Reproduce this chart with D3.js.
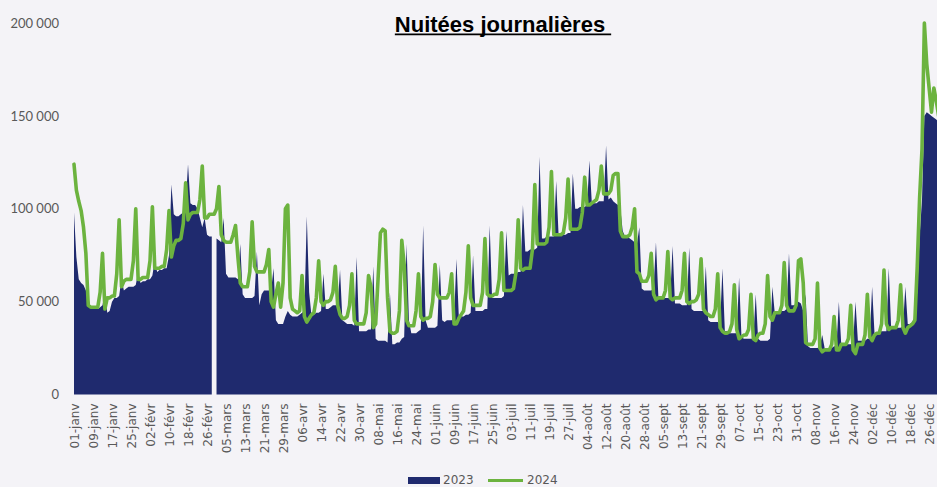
<!DOCTYPE html>
<html lang="fr">
<head>
<meta charset="utf-8">
<title>Nuitées journalières</title>
<script src="https://cdn.jsdelivr.net/npm/d3@7"></script>
<style>
  html, body { margin: 0; padding: 0; background: #f4f3f7; }
  svg { display: block; }
  .axis text { fill: #595959; }
</style>
</head>
<body>
<div id="chart"></div>
<script>
// nuitées par jour, en milliers, alignées sur le calendrier 2024 (366 jours, lundi -> dimanche)
// 2023 n'a pas de 29 février : valeur null a cet endroit
const nuitees2023 = [
  98, 74, 62, 60, 59, 56, 52,
  47, 46, 46, 46, 47, 48, 55,
  44, 45, 50, 52, 52, 53, 62,
  56, 57, 58, 58, 58, 59, 66,
  60, 61, 61, 62, 62, 64, 72,
  66, 67, 67, 68, 68, 75, 113,
  97, 96, 96, 97, 98, 102, 124,
  103, 102, 102, 100, 95, 90, 95,
  86, 85, 85, null, 84, 83, 82,
  95, 65, 63, 63, 63, 63, 62,
  81, 54, 52, 52, 52, 52, 53,
  77, 48, 54, 56, 56, 56, 56,
  68, 40, 38, 38, 38, 42, 45,
  43, 42, 42, 42, 43, 44, 45,
  96, 55, 42, 43, 44, 44, 45,
  65, 46, 46, 47, 48, 48, 48,
  67, 40, 39, 38, 38, 38, 37,
  74, 34, 34, 34, 34, 35, 35,
  69, 30, 29, 29, 29, 29, 28,
  55, 27, 27, 28, 28, 30, 31,
  81, 40, 33, 33, 33, 34, 35,
  91, 40, 36, 36, 36, 36, 37,
  70, 40, 39, 40, 40, 40, 41,
  73, 42, 42, 42, 43, 43, 44,
  75, 45, 45, 45, 45, 46, 46,
  91, 52, 52, 52, 52, 52, 53,
  88, 64, 65, 65, 65, 66, 66,
  102, 77, 77, 78, 78, 78, 79,
  128, 84, 84, 85, 85, 85, 85,
  115, 86, 86, 86, 86, 87, 87,
  119, 100, 100, 101, 101, 101, 102,
  126, 103, 103, 103, 104, 104, 104,
  134, 105, 106, 104, 103, 102, 100,
  88, 85, 85, 84, 83, 82, 81,
  90, 57, 56, 56, 56, 56, 57,
  82, 53, 52, 52, 52, 52, 52,
  80, 49, 49, 49, 48, 48, 48,
  79, 46, 45, 45, 45, 45, 45,
  69, 40, 39, 39, 39, 39, 38,
  68, 34, 34, 33, 33, 33, 33,
  63, 31, 30, 30, 30, 30, 30,
  54, 30, 29, 29, 29, 29, 30,
  58, 44, 44, 45, 45, 45, 46,
  76, 48, 48, 49, 50, 49, 45,
  54, 26, 25, 25, 25, 25, 26,
  32, 25, 25, 25, 25, 26, 26,
  50, 27, 27, 27, 27, 27, 28,
  50, 29, 29, 29, 29, 30, 30,
  58, 33, 33, 34, 34, 34, 34,
  68, 36, 36, 36, 36, 36, 37,
  58, 38, 38, 39, 42, 55, 85,
  105, 150, 152, 151, 150, 149, 148,
  147, 146
];

const nuitees2024 = [
  124, 110, 104, 99, 90, 76, 48,
  47, 47, 47, 47, 55, 76, 46,
  52, 52, 53, 53, 65, 94, 58,
  61, 62, 62, 62, 72, 100, 62,
  62, 63, 63, 63, 72, 101, 68,
  68, 68, 69, 69, 78, 99, 74,
  80, 83, 83, 84, 92, 114, 94,
  97, 98, 98, 98, 105, 123, 95,
  95, 97, 97, 97, 100, 112, 86,
  83, 82, 82, 82, 86, 91, 74,
  60, 58, 58, 58, 66, 93, 69,
  66, 66, 66, 66, 70, 78, 50,
  47, 54, 60, 47, 60, 100, 102,
  52, 46, 45, 44, 45, 64, 42,
  39, 41, 43, 44, 52, 72, 50,
  48, 50, 50, 51, 55, 69, 48,
  43, 41, 41, 42, 48, 65, 40,
  38, 38, 38, 38, 44, 64, 58,
  36, 38, 62, 87, 89, 88, 52,
  34, 33, 33, 34, 45, 83, 70,
  40, 37, 37, 37, 45, 65, 42,
  40, 41, 41, 42, 50, 70, 54,
  52, 52, 52, 52, 55, 65, 38,
  38, 41, 43, 45, 55, 80, 52,
  48, 48, 48, 48, 55, 84, 54,
  53, 53, 54, 54, 62, 87, 56,
  56, 56, 56, 57, 65, 94, 68,
  67, 68, 68, 68, 78, 113, 81,
  81, 81, 81, 82, 90, 120, 86,
  86, 86, 86, 87, 95, 116, 89,
  89, 89, 89, 90, 98, 117, 102,
  102, 103, 104, 105, 110, 123, 108,
  108, 108, 110, 118, 119, 119, 88,
  85, 85, 85, 86, 90, 100, 66,
  65, 61, 61, 61, 64, 76, 54,
  51, 52, 52, 52, 56, 77, 52,
  51, 52, 52, 52, 56, 76, 50,
  49, 50, 50, 51, 54, 73, 46,
  44, 43, 42, 42, 46, 65, 36,
  34, 33, 33, 34, 38, 59, 35,
  30, 31, 32, 32, 35, 54, 30,
  29, 32, 33, 33, 38, 64, 42,
  40, 44, 44, 44, 48, 71, 48,
  45, 45, 45, 48, 72, 73, 60,
  28, 27, 27, 27, 30, 60, 25,
  23, 24, 24, 24, 27, 42, 24,
  24, 27, 27, 27, 30, 48, 24,
  22, 27, 27, 27, 32, 54, 31,
  29, 32, 33, 33, 38, 67, 38,
  35, 36, 36, 36, 40, 59, 36,
  33, 36, 37, 38, 40, 69, 106,
  132, 200, 178, 165, 152, 165, 158,
  150, 145
];

// un libelle tous les 8 jours
const tickLabels = [
  "01-janv", "09-janv", "17-janv", "25-janv", "02-févr", "10-févr", "18-févr", "26-févr",
  "05-mars", "13-mars", "21-mars", "29-mars", "06-avr", "14-avr", "22-avr", "30-avr",
  "08-mai", "16-mai", "24-mai", "01-juin", "09-juin", "17-juin", "25-juin", "03-juil",
  "11-juil", "19-juil", "27-juil", "04-août", "12-août", "20-août", "28-août", "05-sept",
  "13-sept", "21-sept", "29-sept", "07-oct", "15-oct", "23-oct", "31-oct", "08-nov",
  "16-nov", "24-nov", "02-déc", "10-déc", "18-déc", "26-déc"
];
const tickStep = 8;

const yTicks = [0, 50, 100, 150, 200]; // milliers
const seriesNames = ["2023", "2024"];

const colors = { "2023": "#1f2a6e", "2024": "#6cb33f" };

const width = 937;
const height = 487;

const svg = d3.select("#chart")
  .append("svg")
  .attr("width", width)
  .attr("height", height);

const x = d3.scaleLinear()
  .domain([0, nuitees2024.length - 1])
  .range([74, 941]);

const y = d3.scaleLinear()
  .domain([0, 200])
  .range([394.5, 23]);

const frLocale = d3.formatLocale({
  decimal: ",",
  thousands: "\u00a0",
  grouping: [3],
  currency: ["", " €"],
});
const fmt = frLocale.format(",d");

// zone 2023
const area = d3.area()
  .defined((d) => d != null)
  .x((d, i) => x(i))
  .y0(y(0))
  .y1((d) => y(d));

svg.append("path")
  .datum(nuitees2023)
  .attr("fill", colors["2023"])
  .attr("d", area);

// courbe 2024
const line = d3.line()
  .x((d, i) => x(i))
  .y((d) => y(d));

svg.append("path")
  .datum(nuitees2024)
  .attr("fill", "none")
  .attr("stroke", colors["2024"])
  .attr("stroke-width", 3.6)
  .attr("stroke-linejoin", "round")
  .attr("stroke-linecap", "round")
  .attr("d", line);

// axe Y
svg.append("g")
  .attr("class", "axis y")
  .attr("transform", `translate(${x(0)},0)`)
  .call(
    d3.axisLeft(y)
      .tickValues(yTicks)
      .tickFormat((d) => fmt(d * 1000))
      .tickSize(0)
      .tickPadding(15)
  )
  .call((g) => g.select(".domain").remove())
  .selectAll("text")
  .attr("font-family", "Lato, sans-serif")
  .attr("font-size", 13);

// axe X
svg.append("g")
  .attr("class", "axis x")
  .attr("transform", `translate(0,${y(0) + 9})`)
  .call(
    d3.axisBottom(x)
      .tickValues(tickLabels.map((d, i) => i * tickStep))
      .tickFormat((d, i) => tickLabels[i])
      .tickSize(0)
  )
  .call((g) => g.select(".domain").remove())
  .selectAll("text")
  .attr("font-family", "'DejaVu Sans', sans-serif")
  .attr("font-size", 12)
  .attr("text-anchor", "end")
  .attr("x", 0)
  .attr("y", 0)
  .attr("dy", "0.35em")
  .attr("transform", "rotate(-90)");

// titre souligne
const title = svg.append("text")
  .attr("x", 500)
  .attr("y", 31.5)
  .attr("text-anchor", "middle")
  .attr("font-family", "'Liberation Sans', Arial, sans-serif")
  .attr("font-weight", "bold")
  .attr("font-size", 22)
  .attr("fill", "#000")
  .text("Nuitées journalières");

const tb = title.node().getBBox();
svg.append("line")
  .attr("x1", tb.x)
  .attr("x2", tb.x + tb.width + 6)
  .attr("y1", 34.3)
  .attr("y2", 34.3)
  .attr("stroke", "#000")
  .attr("stroke-width", 1.8);

// legende
const legend = svg.append("g")
  .attr("class", "axis legend")
  .attr("transform", "translate(408,480)");

const items = legend.selectAll("g")
  .data(seriesNames)
  .join("g")
  .attr("transform", (d, i) => `translate(${i * 80},0)`);

items.filter((d) => d === "2023")
  .append("rect")
  .attr("x", 0)
  .attr("y", -3)
  .attr("width", 32)
  .attr("height", 7)
  .attr("fill", colors["2023"]);

items.filter((d) => d === "2024")
  .append("line")
  .attr("x1", 0)
  .attr("x2", 35)
  .attr("y1", 0.5)
  .attr("y2", 0.5)
  .attr("stroke", colors["2024"])
  .attr("stroke-width", 3);

items.append("text")
  .attr("x", (d) => (d === "2023" ? 35 : 39))
  .attr("y", 4)
  .attr("font-family", "'DejaVu Sans', sans-serif")
  .attr("font-size", 12)
  .text((d) => d);
</script>
</body>
</html>
